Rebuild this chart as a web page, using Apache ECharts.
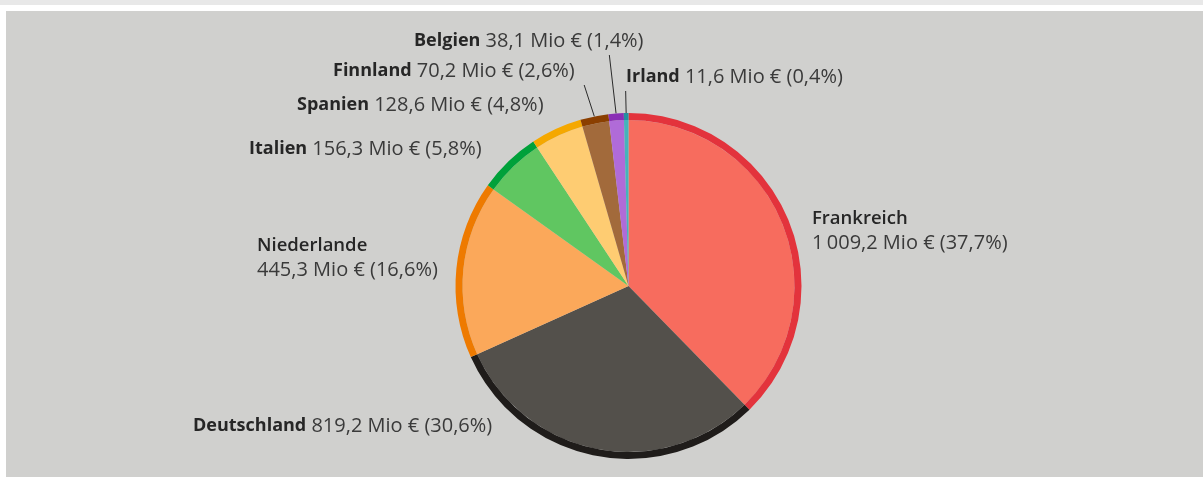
<!DOCTYPE html>
<html>
<head>
<meta charset="utf-8">
<script src="https://cdn.jsdelivr.net/npm/echarts@6/dist/echarts.min.js"></script>
<style>
  html, body { margin: 0; padding: 0; background: #fff; }
  #topbar { position: absolute; left: 0; top: 0; width: 1203px; height: 5px; background: #e8e8e8; }
  #panel { position: absolute; left: 6px; top: 11px; width: 1197px; height: 466px; background: #d0d0ce; }
  #chart { position: absolute; left: 0; top: 0; width: 1203px; height: 477px; }
</style>
</head>
<body>
<div id="topbar"></div>
<div id="panel"></div>
<div id="chart"></div>
<script>
// Daten (Mio €)
const countries = ['Frankreich', 'Deutschland', 'Niederlande', 'Italien', 'Spanien', 'Finnland', 'Belgien', 'Irland'];
const amounts = [1009.2, 819.2, 445.3, 156.3, 128.6, 70.2, 38.1, 11.6];
const fillColors = ['#f76c5e', '#53504b', '#fba85a', '#60c661', '#fecc72', '#a26a3b', '#b06bd8', '#45b3bb'];
const ringColors = ['#e3333c', '#1f1c1a', '#ee7a00', '#00a13a', '#f5a800', '#8b3f00', '#8a2fb5', '#2390a0'];

// Label-Positionen (links, Mitte) und Zeilenumbruch
const labelPos = [[812, 231, true], [193, 426], [257, 258, true], [249, 149], [297, 105], [333, 71], [414, 41], [626, 77]];
const withLine = [false, false, false, false, false, true, true, true];

const total = amounts.reduce((a, b) => a + b, 0);

function fmt(v) {
  const parts = v.toFixed(1).split('.');
  const int = parts[0].replace(/\B(?=(\d{3})+(?!\d))/g, '\u2009');
  return int + ',' + parts[1];
}

const chart = echarts.init(document.getElementById('chart'));

const center = [628.5, 286];

const option = {
  backgroundColor: 'transparent',
  animation: false,
  textStyle: { fontFamily: 'Open Sans' },
  series: [
    {
      type: 'pie',
      center: center,
      radius: [0, 166],
      startAngle: 90,
      clockwise: true,
      silent: true,
      label: { show: false },
      labelLine: { show: false },
      data: countries.map((c, i) => ({
        name: c,
        value: amounts[i],
        itemStyle: { color: fillColors[i] }
      }))
    },
    {
      type: 'pie',
      center: center,
      radius: [166, 173],
      startAngle: 90,
      clockwise: true,
      silent: true,
      data: countries.map((c, i) => ({
        name: c,
        value: amounts[i],
        itemStyle: { color: ringColors[i] },
        labelLine: { show: withLine[i], lineStyle: { color: '#2a2a2a', width: 1 } }
      })),
      label: {
        show: true,
        formatter: p => {
          const pct = (p.value / total * 100).toFixed(1).replace('.', ',');
          const twoLines = labelPos[p.dataIndex][2];
          const nameStyle = twoLines ? 'm' : 'b';
          return '{' + nameStyle + '|' + p.name + '}' + (twoLines ? '\n' : '{s| }') +
            '{v|' + fmt(p.value) + ' Mio € (' + pct + '%)}';
        },
        rich: {
          b: { fontFamily: 'Open Sans', fontSize: 18, fontWeight: 'bold', color: '#262626', lineHeight: 24 },
          m: { fontFamily: 'Open Sans', fontSize: 18.5, fontWeight: 600, color: '#262626', lineHeight: 24 },
          s: { fontFamily: 'Open Sans', fontSize: 20, lineHeight: 24 },
          v: { fontFamily: 'Open Sans', fontSize: 20, color: '#3a3a3a', lineHeight: 24 }
        }
      },
      labelLayout: p => {
        const i = p.dataIndex;
        const out = {
          x: labelPos[i][0],
          y: labelPos[i][1],
          align: 'left',
          verticalAlign: 'middle'
        };
        if (withLine[i] && p.labelLinePoints) {
          // Linie radial vom Rand bis knapp unter das Label
          const s = p.labelLinePoints[0];
          const endY = labelPos[i][1] + p.labelRect.height / 2 + 4;
          const dx = s[0] - center[0], dy = s[1] - center[1];
          const t = (endY - s[1]) / dy;
          const endX = s[0] + dx * t * 1.6;
          out.labelLinePoints = [s, [endX, endY], [endX, endY]];
        }
        return out;
      }
    }
  ]
};

chart.setOption(option);
</script>
</body>
</html>
